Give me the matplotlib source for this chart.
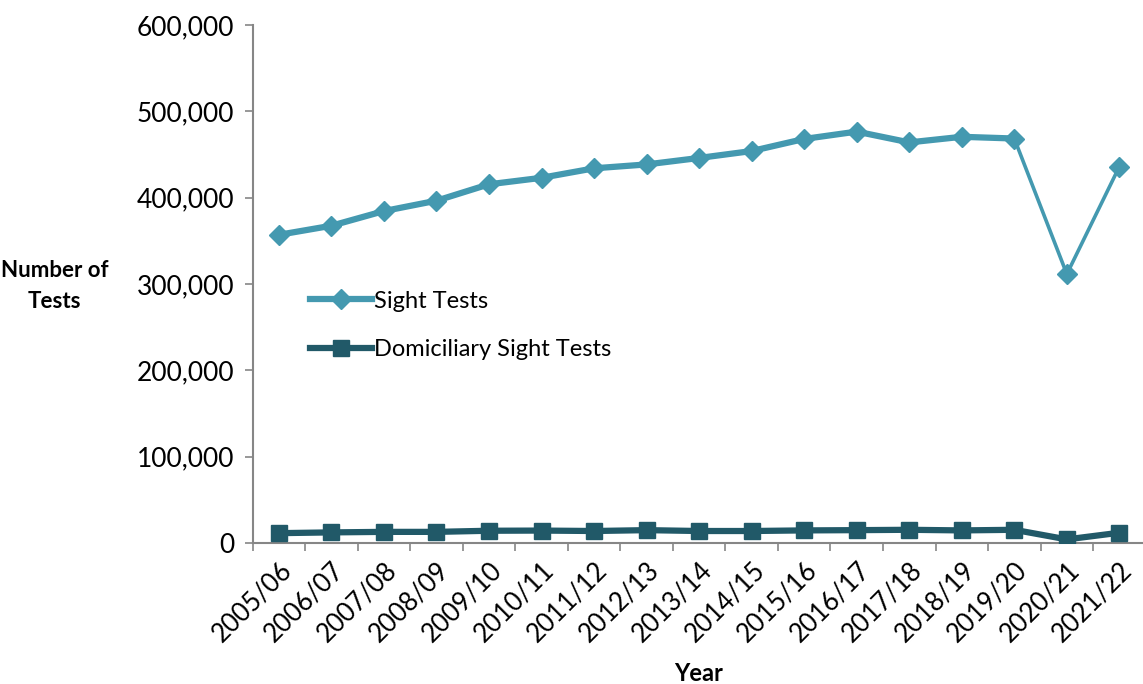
import numpy as np
import matplotlib.pyplot as plt
from matplotlib.lines import Line2D
from matplotlib.ticker import FuncFormatter, FixedLocator

plt.rcParams['font.family'] = ['Lato', 'DejaVu Sans']

years = ["2005/06", "2006/07", "2007/08", "2008/09", "2009/10", "2010/11",
         "2011/12", "2012/13", "2013/14", "2014/15", "2015/16", "2016/17",
         "2017/18", "2018/19", "2019/20", "2020/21", "2021/22"]
sight = [357000, 367500, 384500, 396500, 415500, 423000, 434000, 438500,
         446000, 454000, 468000, 476500, 464000, 470500, 468500, 311500, 436000]
domiciliary = [11500, 12400, 13000, 13000, 14300, 14500, 14000, 15000,
               14000, 14000, 14700, 15000, 15400, 14700, 15400, 4300, 12000]

c_sight = "#4499b0"
c_dom = "#215968"
grey = "#868686"

fig = plt.figure(figsize=(11.43, 6.84), dpi=100)
ax = fig.add_axes([0.221, 0.206, 0.779, 0.7575])

x = np.arange(len(years))

# thick for most years, thinner for the covid drop
ax.plot(x[:15], sight[:15], color=c_sight, lw=4.5, solid_capstyle='round', zorder=3)
ax.plot(x[14:], sight[14:], color=c_sight, lw=2.6, zorder=3)
ax.plot(x, sight, ls='none', marker='D', ms=10, color=c_sight, zorder=4)

ax.plot(x, domiciliary, color=c_dom, lw=4.5, marker='s', ms=12, zorder=3)

ax.set_xlim(-0.5, 16.45)
ax.set_ylim(0, 600000)
ax.set_yticks(np.arange(0, 600001, 100000))
ax.yaxis.set_major_formatter(FuncFormatter(lambda v, p: f"{int(v):,}"))

ax.set_xticks(x)
ax.set_xticklabels(years, rotation=45, ha='right', rotation_mode='anchor')
ax.xaxis.set_minor_locator(FixedLocator(np.arange(-0.5, 17, 1)))
ax.tick_params(axis='x', which='major', length=0, pad=10, labelsize=18.5)
ax.tick_params(axis='x', which='minor', length=6, color=grey, width=1.2)
ax.tick_params(axis='y', length=6, color=grey, width=1.2, labelsize=19, pad=7)

for s in ['top', 'right']:
    ax.spines[s].set_visible(False)
for s in ['left', 'bottom']:
    ax.spines[s].set_color(grey)
    ax.spines[s].set_linewidth(1.5)

handles = [Line2D([], [], color=c_sight, lw=4.5, marker='D', ms=10),
           Line2D([], [], color=c_dom, lw=4.5, marker='s', ms=12)]
fig.legend(handles, ["Sight Tests", "Domiciliary Sight Tests"],
           loc='upper left', bbox_to_anchor=(0.253, 0.606), frameon=False,
           fontsize=17, handlelength=2.6, handletextpad=0.1, labelspacing=1.15)

fig.text(0.048, 0.582, "Number of\nTests", ha='center', va='center',
         fontsize=16, fontweight='bold', linespacing=1.6)
fig.text(0.611, 0.016, "Year", ha='center', va='center',
         fontsize=17, fontweight='bold')

fig.savefig("out.png", dpi=100)
